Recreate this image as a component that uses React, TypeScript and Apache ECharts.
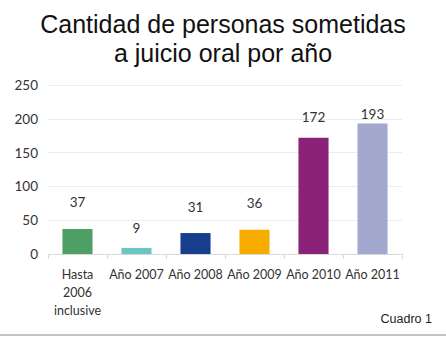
import React, { useEffect, useRef } from "react";
import * as echarts from "echarts";

const categories = ["Hasta\n2006\ninclusive", "Año 2007", "Año 2008", "Año 2009", "Año 2010", "Año 2011"];
const values = [37, 9, 31, 36, 172, 193];
const colors = ["#4f9e64", "#6cc5c5", "#163e8c", "#f7ad00", "#8a2278", "#a3a8cf"];
const labelOffsets = [-15, -8, -14, -15, -9, 2];
const yTicks = { min: 0, max: 250, interval: 50 };

export default function App() {
  const ref = useRef<HTMLDivElement>(null);
  useEffect(() => {
    const chart = echarts.init(ref.current!, null, { renderer: "svg" });
    chart.setOption({
      animation: false,
      backgroundColor: "#ffffff",
      title: {
        text: "Cantidad de personas sometidas\na juicio oral por año",
        left: "center",
        top: 4,
        textStyle: { fontFamily: "Liberation Sans", fontSize: 25, fontWeight: "normal", color: "#111", lineHeight: 29 },
      },
      grid: { left: 48, right: 44, top: 85, bottom: 91, containLabel: false },
      xAxis: {
        type: "category",
        data: categories,
        axisLine: { lineStyle: { color: "#d9d9d9" } },
        axisTick: { show: true, length: 5, lineStyle: { color: "#d9d9d9" } },
        axisLabel: { fontFamily: "Lato", fontSize: 12.5, color: "#333", lineHeight: 18, margin: 11, interval: 0 },
      },
      yAxis: {
        type: "value",
        min: yTicks.min,
        max: yTicks.max,
        interval: yTicks.interval,
        axisLine: { show: false },
        axisTick: { show: false },
        splitLine: { lineStyle: { color: "#ececec" } },
        axisLabel: { fontFamily: "Lato", fontSize: 13.5, color: "#333", margin: 10 },
      },
      series: [
        {
          type: "bar",
          barWidth: "51%",
          data: values.map((v, i) => ({
            value: v,
            itemStyle: { color: colors[i] },
            label: { offset: [0, labelOffsets[i]] },
          })),
          label: {
            show: true,
            position: "top",
            fontFamily: "Lato",
            fontSize: 13.5,
            color: "#333",
          },
        },
      ],
      graphic: [
        {
          type: "text",
          right: 14,
          top: 312,
          style: { text: "Cuadro 1", font: "12.5px 'Liberation Sans'", fill: "#222" },
        },
        {
          type: "line",
          shape: { x1: 0, y1: 335, x2: 446, y2: 335 },
          style: { stroke: "#888", lineWidth: 1 },
        },
      ],
    });
    return () => chart.dispose();
  }, []);
  return <div ref={ref} style={{ position: "fixed", left: 0, top: 0, width: 446, height: 345 }} />;
}
